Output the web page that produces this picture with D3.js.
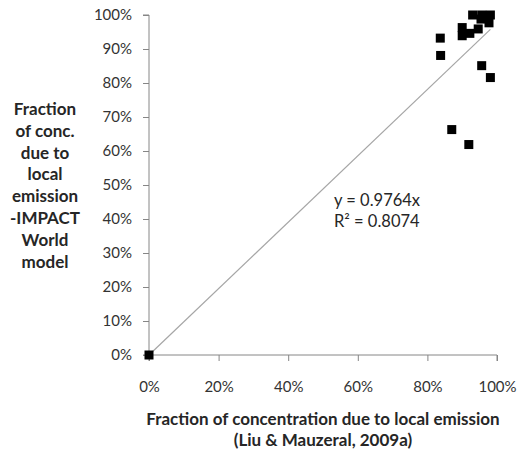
<!DOCTYPE html>
<html>
<head>
<meta charset="utf-8">
<script src="https://cdn.jsdelivr.net/npm/d3@7"></script>
<style>
  body { margin: 0; background: #fff; }
  text { font-family: Lato, "Open Sans", sans-serif; }
</style>
</head>
<body>
<div id="canvas"></div>
<script>
// data (fractions)
var xVals = [0, 0.837, 0.838, 0.870, 0.919, 0.956, 0.981, 0.900, 0.900, 0.922, 0.946, 0.930, 0.956, 0.981, 0.954, 0.977];
var yVals = [0, 0.932, 0.881, 0.663, 0.619, 0.851, 0.816, 0.963, 0.939, 0.946, 0.959, 1.000, 1.000, 1.000, 0.988, 0.977];
var slope = 0.9764;
var trendLabels = ['y = 0.9764x', 'R\u00b2 = 0.8074'];
var xTicks = [0, 0.2, 0.4, 0.6, 0.8, 1];
var yTicks = [0, 0.1, 0.2, 0.3, 0.4, 0.5, 0.6, 0.7, 0.8, 0.9, 1];
var yTitle = ['Fraction', 'of conc.', 'due to', 'local', 'emission', '-IMPACT', 'World', 'model'];
var xTitle = ['Fraction of concentration due to local emission', '(Liu & Mauzeral, 2009a)'];

var W = 523, H = 452;
var m = {t:15, r:26, b:97, l:149};
var w = W - m.l - m.r,
    h = H - m.t - m.b;

var svg = d3.select('#canvas')
    .append('svg')
    .attr('width', W)
    .attr('height', H);

var plot = svg.append('g')
    .attr('transform', 'translate(' + m.l + ',' + m.t + ')');

var scaleX = d3.scaleLinear().domain([0,1]).range([0,w]);
var scaleY = d3.scaleLinear().domain([0,1]).range([h,0]);

var fmt = d3.format('.0%');

var axisX = d3.axisBottom(scaleX).tickValues(xTicks).tickFormat(fmt).tickSize(6).tickPadding(20);
var axisY = d3.axisLeft(scaleY).tickValues(yTicks).tickFormat(fmt).tickSize(6).tickPadding(11);

var gx = plot.append('g')
    .attr('transform', 'translate(0,' + h + ')')
    .call(axisX);
var gy = plot.append('g').call(axisY);

[gx, gy].forEach(function(g){
    g.selectAll('path').attr('stroke', '#868686');
    g.selectAll('line').attr('stroke', '#868686');
    g.selectAll('text')
        .attr('fill', '#333')
        .style('font-size', '15px')
        .style('font-family', 'Lato, sans-serif');
});
gx.select('.domain').attr('d', 'M0,0H' + w + 'V6M0,0V6');
gy.select('.domain').attr('d', 'M-6,0H0V' + h + 'H-6');

// trendline
var xMax = d3.max(xVals);
plot.append('line')
    .attr('x1', scaleX(0)).attr('y1', scaleY(0))
    .attr('x2', scaleX(xMax)).attr('y2', scaleY(slope * xMax))
    .attr('stroke', '#a6a6a6')
    .attr('stroke-width', 1.2);

// markers
var pts = xVals.map(function(d,i){ return {x:d, y:yVals[i]}; });
plot.selectAll('.pt')
    .data(pts)
    .enter()
    .append('rect')
    .attr('class','pt')
    .attr('x', function(d){ return scaleX(d.x) - 4.5; })
    .attr('y', function(d){ return scaleY(d.y) - 4.5; })
    .attr('width', 9)
    .attr('height', 9)
    .attr('fill', '#000');

// equation
plot.selectAll('.eq')
    .data(trendLabels)
    .enter()
    .append('text')
    .attr('class','eq')
    .attr('x', 185)
    .attr('y', function(d,i){ return 191 + i*21; })
    .attr('fill', '#262626')
    .style('font-size', '16.5px')
    .text(function(d){ return d; });

// y title
svg.selectAll('.ytitle')
    .data(yTitle)
    .enter()
    .append('text')
    .attr('class','ytitle')
    .attr('x', 45)
    .attr('y', function(d,i){ return 115 + i*21.8; })
    .attr('text-anchor','middle')
    .attr('font-weight','bold')
    .attr('fill', '#262626')
    .style('font-size', '17px')
    .text(function(d){ return d; });

// x title
svg.selectAll('.xtitle')
    .data(xTitle)
    .enter()
    .append('text')
    .attr('class','xtitle')
    .attr('x', m.l + w/2)
    .attr('y', function(d,i){ return 425 + i*21; })
    .attr('text-anchor','middle')
    .attr('font-weight','bold')
    .attr('fill', '#262626')
    .style('font-size', '17px')
    .text(function(d){ return d; });
</script>
</body>
</html>
